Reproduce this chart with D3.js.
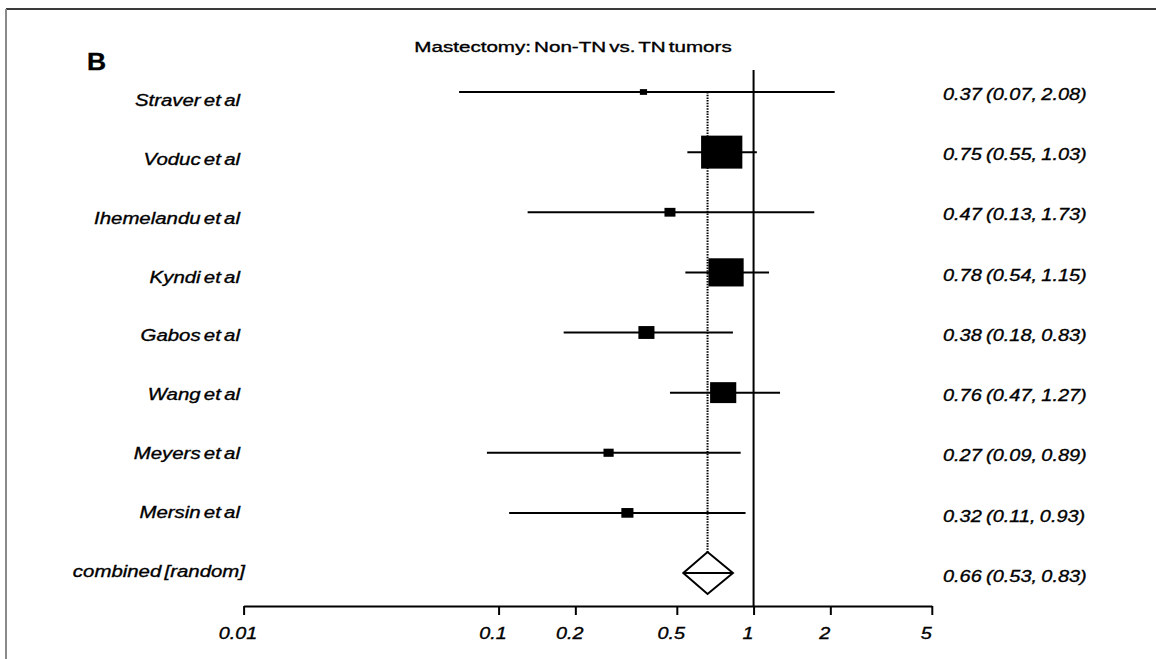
<!DOCTYPE html>
<html>
<head>
<meta charset="utf-8">
<script src="https://cdn.jsdelivr.net/npm/d3@7"></script>
<style>
  body { margin: 0; background: #fff; }
  text { font-family: "Liberation Sans", Arial, sans-serif; fill: #000; stroke: #000; stroke-width: 0.35px; }
</style>
</head>
<body>
<div id="forest"></div>
<script>
// study data
var studies   = ['Straver et al', 'Voduc et al', 'Ihemelandu et al', 'Kyndi et al',
                 'Gabos et al', 'Wang et al', 'Meyers et al', 'Mersin et al'];
var estimates = [0.37, 0.75, 0.47, 0.78, 0.38, 0.76, 0.27, 0.32];
var lowerCI   = [0.07, 0.55, 0.13, 0.54, 0.18, 0.47, 0.09, 0.11];
var upperCI   = [2.08, 1.03, 1.73, 1.15, 0.83, 1.27, 0.89, 0.93];
var weights   = [1.2, 39.5, 2.8, 28.8, 6.0, 15.9, 2.4, 3.4];   // percent, sets box size

// pooled estimate
var pooledLabel = 'combined [random]';
var pooled = [0.66, 0.53, 0.83];

var tickValues = [0.01, 0.1, 0.2, 0.5, 1, 2, 5];

(function () {

  var W = 1156, H = 659;
  var sx = 1.2;   // the figure is stretched horizontally, text too

  var svg = d3.select('#forest')
      .append('svg')
      .attr('width', W)
      .attr('height', H);

  // frame (top and left edges only, the rest is cropped)
  svg.append('line').attr('x1', 6).attr('x2', W).attr('y1', 9).attr('y2', 9)
      .attr('stroke', '#3a3a3a').attr('stroke-width', 2);
  svg.append('line').attr('x1', 6).attr('x2', 6).attr('y1', 9).attr('y2', H)
      .attr('stroke', '#8a8a8a').attr('stroke-width', 2);

  // log scale for the odds ratios
  var x = d3.scaleLog().domain([0.01, 5]).range([243.6, 931.8]);

  // rows: marks, left labels and right values sit on slightly different grids
  var rows = studies.concat([pooledLabel]);
  var y = d3.scalePoint().domain(rows).range([92, 573]);
  var yLabel = d3.scalePoint().domain(rows).range([100, 571]);
  var yValue = d3.scalePoint().domain(rows).range([94, 576]);

  // box size follows the weight (area)
  var size = d3.scaleSqrt().domain([0, 40]).range([0, 41.5]);

  var fmt = d3.format('.2f');

  function stretchedText(px, py, str, anchor, fontSize, scaleX) {
    return svg.append('text')
        .attr('transform', 'translate(' + px + ',' + py + ') scale(' + scaleX + ',1)')
        .attr('text-anchor', anchor)
        .attr('dy', '0.35em')
        .style('font-size', fontSize + 'px')
        .text(str);
  }

  // panel letter and title
  stretchedText(87, 62, 'B', 'start', 23, 1.15).style('font-weight', 'bold');
  stretchedText(573, 47, 'Mastectomy: Non-TN vs. TN tumors', 'middle', 15.5, 1.33)
      .style('word-spacing', '-2px');

  // line of no effect
  svg.append('line')
      .attr('x1', x(1)).attr('x2', x(1))
      .attr('y1', 70).attr('y2', 606)
      .attr('stroke', '#000').attr('stroke-width', 2);

  // dotted line at the pooled estimate
  svg.append('line')
      .attr('x1', x(pooled[0])).attr('x2', x(pooled[0]))
      .attr('y1', y(studies[0])).attr('y2', y(pooledLabel) - 21)
      .attr('stroke', '#000').attr('stroke-width', 2)
      .attr('stroke-dasharray', '1.5,1.2');

  // confidence intervals, boxes, labels
  studies.forEach(function (s, i) {
    svg.append('line')
        .attr('x1', x(lowerCI[i])).attr('x2', x(upperCI[i]))
        .attr('y1', y(s)).attr('y2', y(s))
        .attr('stroke', '#000').attr('stroke-width', 2);

    var w = size(weights[i]), h = w / 1.25;
    svg.append('rect')
        .attr('x', x(estimates[i]) - w / 2)
        .attr('y', y(s) - h / 2)
        .attr('width', w)
        .attr('height', h)
        .attr('fill', '#000');

    stretchedText(240, yLabel(s), s, 'end', 17, sx)
        .style('font-style', 'italic').style('word-spacing', '-2px');
    stretchedText(943, yValue(s),
        fmt(estimates[i]) + ' (' + fmt(lowerCI[i]) + ', ' + fmt(upperCI[i]) + ')',
        'start', 16.6, sx)
        .style('font-style', 'italic').style('word-spacing', '-1px');
  });

  // pooled diamond
  var py = y(pooledLabel);
  svg.append('path')
      .attr('d', 'M' + x(pooled[1]) + ',' + py +
                 'L' + x(pooled[0]) + ',' + (py - 21) +
                 'L' + x(pooled[2]) + ',' + py +
                 'L' + x(pooled[0]) + ',' + (py + 21) + 'Z')
      .attr('fill', '#fff').attr('stroke', '#000').attr('stroke-width', 2);
  svg.append('line')
      .attr('x1', x(pooled[1])).attr('x2', x(pooled[2]))
      .attr('y1', py).attr('y2', py)
      .attr('stroke', '#000').attr('stroke-width', 2);

  stretchedText(245, yLabel(pooledLabel), pooledLabel, 'end', 17, sx)
      .style('font-style', 'italic').style('word-spacing', '-2px');
  stretchedText(943, yValue(pooledLabel),
      fmt(pooled[0]) + ' (' + fmt(pooled[1]) + ', ' + fmt(pooled[2]) + ')',
      'start', 16.6, sx)
      .style('font-style', 'italic').style('word-spacing', '-1px');

  // x axis
  var axis = svg.append('g')
      .attr('class', 'x axis')
      .attr('transform', 'translate(0,606)')
      .call(d3.axisBottom(x)
        .tickValues(tickValues)
        .tickFormat(function (d) { return String(d); })
        .tickSize(9)
        .tickSizeOuter(0));

  axis.select('.domain').attr('stroke', '#000').attr('stroke-width', 2);
  axis.selectAll('.tick line').attr('stroke', '#000').attr('stroke-width', 2);
  axis.selectAll('.tick text')
      .attr('y', 21)
      .attr('x', -5)
      .attr('transform', 'scale(' + sx + ',1)')
      .style('font-size', '16.5px')
      .style('font-style', 'italic')
      .style('font-family', '"Liberation Sans", Arial, sans-serif')
      .attr('fill', '#000');
})();
</script>
</body>
</html>
